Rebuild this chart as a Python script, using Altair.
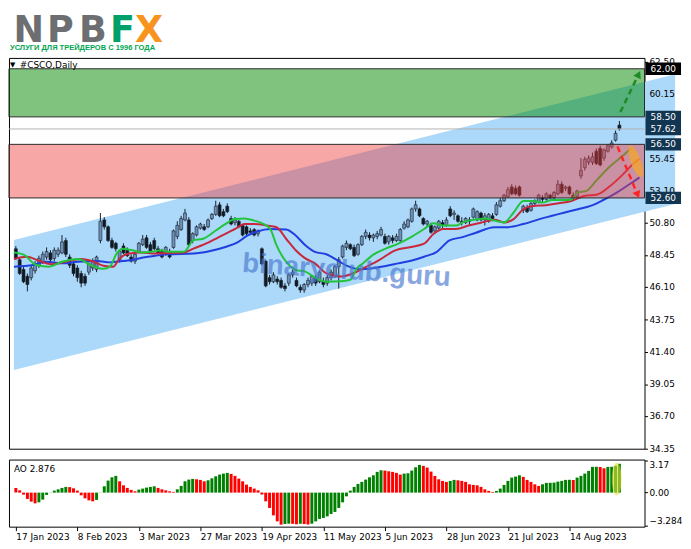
import altair as alt
import pandas as pd

# daily bars, 17 Jan 2023 .. 31 Aug 2023 (bar index 0..157)
opens = [48.9, 48.1, 47.4, 46.9, 46.8, 47.3, 47.7, 47.9, 48.3, 48.6,
         48.2, 48.5, 48.6, 49.5, 48.3, 47.8, 47.5, 47.1, 46.9, 47.2,
         47.5, 47.4, 49.5, 51.0, 50.5, 49.5, 49.3, 48.1, 49.1, 48.8,
         48.3, 48.0, 48.7, 49.2, 49.7, 49.2, 49.5, 48.9, 48.7, 48.5,
         48.7, 49.0, 49.8, 50.3, 51.0, 51.0, 49.5, 49.9, 50.4, 50.5,
         50.5, 51.1, 51.4, 52.1, 51.6, 52.0, 51.1, 50.8, 50.9, 50.6,
         50.5, 50.2, 50.3, 50.0, 48.9, 48.0, 46.8, 46.5, 46.7, 46.6,
         46.2, 46.4, 47.0, 46.6, 46.1, 45.9, 46.3, 46.4, 46.8, 46.5,
         46.5, 46.4, 46.8, 46.9, 47.6, 48.3, 49.0, 49.2, 49.0, 48.5,
         49.2, 49.8, 49.9, 49.7, 49.8, 49.9, 49.8, 49.4, 49.7, 49.5,
         49.5, 50.4, 50.5, 50.9, 51.8, 51.8, 51.1, 50.7, 50.6, 50.2,
         50.4, 50.8, 50.6, 51.8, 51.4, 51.3, 50.9, 50.8, 51.0, 51.2,
         51.0, 51.5, 51.0, 50.9, 51.3, 51.4, 52.0, 52.4, 52.7, 53.4,
         53.3, 53.4, 51.7, 51.9, 51.7, 52.2, 52.3, 52.6, 52.5, 52.8,
         52.6, 52.9, 53.6, 53.3, 53.4, 52.8, 52.7, 54.2, 54.8, 55.2,
         55.2, 56.0, 56.2, 55.5, 56.0, 56.3, 56.8, 57.9]
highs = [49.1, 48.3, 47.6, 47.1, 47.7, 48.0, 48.4, 48.7, 49.0, 48.8,
         49.0, 49.0, 49.9, 49.7, 48.5, 48.0, 47.7, 47.3, 47.1, 47.9,
         48.2, 48.4, 51.5, 51.2, 50.6, 49.7, 49.4, 48.8, 49.3, 49.0,
         48.5, 48.6, 49.4, 49.9, 49.9, 49.4, 49.7, 49.1, 48.9, 49.1,
         48.9, 50.3, 50.9, 51.3, 51.8, 51.2, 50.1, 50.6, 50.8, 50.7,
         51.1, 51.5, 52.4, 52.3, 51.8, 52.2, 51.3, 51.2, 51.0, 50.7,
         50.6, 50.4, 50.4, 50.3, 49.0, 48.1, 47.0, 47.2, 46.9, 46.8,
         46.4, 47.1, 47.4, 46.8, 46.3, 46.4, 46.8, 47.0, 47.0, 47.3,
         46.8, 47.0, 47.4, 47.7, 48.3, 49.2, 49.5, 49.3, 49.2, 49.3,
         49.9, 50.3, 50.1, 50.0, 50.2, 50.5, 50.0, 49.9, 49.9, 50.0,
         50.4, 50.9, 51.1, 51.9, 52.4, 51.9, 51.2, 51.0, 50.8, 50.6,
         51.0, 51.0, 51.2, 52.0, 51.7, 51.4, 51.2, 51.2, 51.2, 51.9,
         51.7, 51.6, 51.5, 51.5, 51.5, 52.3, 52.6, 52.9, 53.4, 53.6,
         53.5, 53.5, 52.1, 52.1, 52.3, 52.5, 52.9, 52.8, 53.0, 52.9,
         53.1, 53.9, 53.8, 53.5, 53.5, 53.0, 53.2, 55.5, 55.6, 55.7,
         55.9, 56.2, 56.4, 56.2, 56.5, 56.8, 57.5, 58.2]
lows = [48.1, 47.0, 46.4, 45.8, 46.6, 47.1, 47.5, 47.8, 48.1, 47.9,
        48.0, 48.3, 48.5, 48.3, 47.5, 46.9, 46.5, 46.1, 46.2, 47.0,
        47.3, 47.2, 49.3, 50.3, 49.4, 48.9, 48.7, 47.9, 48.5, 48.3,
        47.9, 47.8, 48.6, 49.1, 48.9, 48.6, 48.8, 48.5, 48.2, 48.4,
        48.2, 48.9, 49.6, 50.2, 50.9, 49.1, 49.3, 49.8, 50.3, 50.2,
        50.4, 51.0, 51.3, 51.2, 51.2, 51.5, 50.6, 50.6, 50.4, 49.8,
        49.9, 49.9, 49.8, 49.8, 47.7, 46.1, 46.3, 46.4, 46.3, 46.0,
        45.8, 46.2, 46.8, 46.1, 45.7, 45.7, 46.1, 46.2, 46.2, 46.4,
        46.1, 46.2, 46.6, 46.8, 46.0, 48.2, 48.8, 48.8, 48.3, 48.4,
        49.1, 49.6, 49.5, 49.4, 49.6, 49.8, 49.2, 49.2, 49.3, 49.4,
        49.4, 50.3, 50.4, 50.8, 51.6, 51.2, 50.6, 50.5, 50.0, 50.0,
        50.3, 50.4, 50.5, 51.2, 51.0, 50.8, 50.6, 50.7, 50.6, 51.1,
        50.9, 50.9, 50.6, 50.8, 50.9, 51.3, 51.9, 52.3, 52.6, 52.8,
        52.8, 52.7, 51.5, 51.5, 51.6, 52.0, 52.2, 52.3, 52.4, 52.5,
        52.5, 52.8, 52.9, 53.1, 52.8, 52.4, 52.6, 54.0, 54.6, 55.0,
        55.0, 55.0, 54.9, 55.3, 55.9, 56.2, 56.7, 57.5]
closes = [48.2, 47.1, 46.5, 46.3, 47.5, 47.8, 48.2, 48.5, 48.7, 48.1,
          48.8, 48.8, 49.4, 48.5, 47.7, 47.1, 46.8, 46.4, 46.4, 47.8,
          48.0, 48.3, 50.9, 50.5, 49.5, 49.0, 48.9, 48.7, 48.6, 48.4,
          48.0, 48.5, 49.3, 49.6, 49.0, 48.7, 48.9, 48.6, 48.3, 49.0,
          48.3, 50.2, 50.6, 51.1, 51.5, 49.2, 50.0, 50.5, 50.7, 50.3,
          51.0, 51.4, 52.0, 51.3, 51.3, 51.6, 50.7, 51.0, 50.5, 49.9,
          50.0, 50.1, 49.9, 50.2, 47.8, 46.2, 46.5, 47.0, 46.5, 46.1,
          46.0, 47.0, 47.2, 46.2, 45.9, 46.3, 46.6, 46.9, 46.4, 47.2,
          46.3, 46.8, 47.2, 47.6, 48.1, 49.1, 49.3, 48.9, 48.4, 49.2,
          49.8, 50.1, 49.7, 49.9, 50.0, 50.3, 49.3, 49.8, 49.5, 49.8,
          50.3, 50.7, 51.0, 51.8, 52.1, 51.3, 50.7, 50.9, 50.1, 50.5,
          50.9, 50.6, 51.0, 51.3, 51.5, 50.9, 50.8, 51.1, 50.9, 51.8,
          51.6, 51.0, 51.3, 51.4, 51.1, 52.1, 52.4, 52.8, 53.2, 52.9,
          52.9, 52.8, 52.0, 51.6, 52.2, 52.4, 52.8, 52.5, 52.9, 52.6,
          53.0, 53.6, 53.0, 53.4, 52.9, 52.6, 53.1, 54.6, 55.4, 55.5,
          55.6, 55.1, 55.0, 56.1, 56.4, 56.6, 57.3, 57.62]

# Awesome Oscillator, one value per bar
ao_values = [0.47, 0.23, -0.2, -0.63, -0.9, -1.07, -0.97, -0.7, -0.23, -0.02,
             0.2, 0.33, 0.47, 0.57, 0.55, 0.43, 0.2, -0.27, -0.57, -0.77,
             -0.87, -0.73, 0.02, 0.63, 1.2, 1.53, 1.67, 1.13, 0.73, 0.47,
             0.27, 0.13, 0.3, 0.4, 0.5, 0.57, 0.63, 0.47, 0.33, 0.23,
             0.13, 0.07, 0.33, 0.67, 1.13, 1.3, 1.37, 1.33, 1.27, 1.13,
             1.23, 1.43, 1.63, 1.8, 1.9, 1.97, 1.87, 1.67, 1.4, 1.13,
             0.8, 0.57, 0.4, 0.23, -0.2, -0.87, -1.53, -2.27, -2.87, -3.2,
             -3.13, -3.1, -3.12, -3.16, -3.11, -3.14, -3.18, -3.1, -2.87, -2.63,
             -2.53, -2.37, -2.13, -1.93, -1.53, -0.97, -0.37, 0.2, 0.57, 0.87,
             1.07, 1.3, 1.53, 1.73, 2.07, 2.23, 2.2, 2.13, 2.07, 1.97,
             1.8, 1.9, 1.93, 2.2, 2.53, 2.77, 2.67, 2.5, 2.1, 1.67,
             1.33, 1.17, 1.07, 1.17, 1.27, 1.23, 1.17, 1.07, 0.83, 0.77,
             0.73, 0.57, 0.33, 0.17, 0.07, 0.17, 0.4, 0.77, 1.17, 1.5,
             1.6, 1.73, 1.57, 1.27, 1.07, 0.83, 0.67, 0.83, 0.97, 0.98,
             1.0, 1.1, 1.17, 1.27, 1.28, 1.26, 1.5, 1.67, 1.9, 2.17,
             2.57, 2.58, 2.56, 2.43, 2.57, 2.58, 2.68, 2.876]

# Alligator lines (bar position, price)
jaw_x = [-0.5, 4.5, 7.8, 12.0, 16.2, 21.2, 24.5, 27.8, 30.3, 32.8,
         36.2, 39.5, 46.2, 50.3, 54.5, 57.8, 60.3, 62.8, 66.2, 70.3,
         72.8, 75.3, 77.8, 80.75, 82.8, 86.2, 89.5, 92.8, 96.2, 99.5,
         102.8, 106.2, 109.5, 112.8, 116.2, 119.5, 124.5, 127.8, 132.0, 136.2,
         139.5, 142.8, 146.2, 149.5, 152.8, 156.2, 160.75, 162.25]
jaw_y = [47.60, 47.72, 47.96, 47.84, 47.96, 48.01, 47.91, 48.01, 48.08, 48.25,
         48.39, 48.50, 48.55, 48.72, 49.03, 49.39, 49.87, 50.16, 50.34, 50.30,
         49.87, 49.16, 48.68, 48.50, 48.20, 47.65, 47.41, 47.48, 47.65, 47.84,
         48.03, 48.32, 48.68, 49.51, 49.75, 50.05, 50.47, 50.47, 50.70, 51.06,
         51.30, 51.54, 51.78, 52.02, 52.45, 52.97, 53.81, 54.10]
teeth_x = [-0.5, 2.8, 6.2, 9.5, 12.8, 17.0, 20.3, 22.8, 25.3, 27.0,
           29.5, 32.8, 36.2, 39.5, 43.7, 46.2, 50.3, 54.5, 57.0, 59.5,
           62.0, 65.3, 67.8, 70.3, 72.8, 75.3, 77.8, 80.75, 84.5, 87.8,
           91.2, 94.5, 98.7, 102.8, 106.2, 108.7, 111.2, 114.5, 117.8, 120.75,
           124.5, 127.0, 129.5, 132.0, 134.5, 137.8, 141.2, 144.5, 147.8, 151.2,
           154.5, 157.8, 160.75, 162.25]
teeth_y = [48.15, 48.32, 48.01, 47.77, 47.96, 48.15, 47.96, 47.67, 47.60, 48.20,
           48.55, 48.63, 48.55, 48.60, 48.63, 48.91, 49.39, 49.99, 50.34, 50.70,
           50.70, 50.59, 50.47, 49.63, 48.79, 48.20, 47.84, 47.12, 46.88, 47.12,
           47.60, 48.08, 48.79, 49.03, 49.27, 49.99, 50.34, 50.34, 50.59, 50.78,
           51.02, 50.82, 51.06, 51.78, 52.02, 52.07, 52.21, 52.38, 52.74, 52.85,
           53.45, 54.28, 55.12, 55.45]
lips_x = [-0.5, 2.0, 5.3, 8.7, 12.0, 16.2, 19.5, 22.8, 24.5, 26.2,
          27.8, 30.3, 32.8, 35.3, 37.8, 39.5, 43.7, 46.2, 48.7, 52.0,
          54.5, 57.0, 59.5, 62.0, 64.5, 66.2, 67.8, 70.3, 72.8, 75.3,
          77.8, 80.75, 84.5, 87.0, 88.7, 90.3, 92.8, 96.2, 99.5, 102.8,
          106.2, 108.7, 111.2, 114.5, 116.2, 118.7, 122.0, 124.5, 127.0, 129.5,
          132.0, 134.5, 137.0, 139.5, 142.8, 144.5, 146.2, 148.2, 151.2, 154.5,
          157.8, 160.0]
lips_y = [48.63, 48.48, 47.72, 47.60, 47.96, 48.15, 47.72, 47.44, 47.60, 48.55,
          48.91, 48.79, 48.63, 48.68, 48.79, 48.68, 48.68, 49.51, 49.63, 50.23,
          50.70, 51.06, 51.11, 50.95, 50.70, 50.34, 49.16, 47.96, 47.36, 47.24,
          46.81, 46.50, 46.53, 46.65, 47.48, 47.84, 48.44, 48.91, 49.27, 49.75,
          50.34, 50.75, 50.59, 50.59, 50.82, 50.99, 51.11, 50.95, 50.82, 51.54,
          52.38, 52.38, 52.26, 52.45, 52.45, 52.49, 53.02, 53.09, 53.93, 54.89,
          55.65, 56.20]

# channel, zones and marked levels
channel_x = [-0.5, 171.5]
channel_top = [49.53, 61.61]
channel_bottom = [40.08, 52.15]
zone_low = [58.50, 52.60]
zone_high = [62.00, 56.50]
zone_colors = ["#008800", "#f03c3c"]
zone_alpha = [0.5, 0.45]
level_prices = [62.00, 58.50, 57.62, 56.50, 52.60]
level_fills = ["#000000", "#123552", "#123552", "#123552", "#123552"]
price_ticks = [34.35, 36.70, 39.05, 41.40, 43.75, 46.10, 48.45, 50.80,
               53.10, 55.45, 57.80, 60.15, 62.50]
date_ticks = [0, 16, 32, 48, 64, 80, 96, 112, 128, 144]
date_labels = ["17 Jan 2023", "8 Feb 2023", "3 Mar 2023", "27 Mar 2023",
               "19 Apr 2023", "11 May 2023", "5 Jun 2023", "28 Jun 2023",
               "21 Jul 2023", "14 Aug 2023"]
ao_ticks = [3.17, 0.0, -3.284]

# forecast arrows and highlight marks
up_arrow_x = [157.25, 162.0]
up_arrow_y = [58.85, 61.6]
down_arrow_x = [156.5, 161.75]
down_arrow_y = [56.34, 52.83]
price_mark = (161.25, 55.27)
ao_mark = (156.3, 1.35)

W, H, AO_H = 644, 396, 68
ELLIPSE = ("M0,-1 C0.166,-1 0.3,-0.552 0.3,0 C0.3,0.552 0.166,1 0,1 "
           "C-0.166,1 -0.3,0.552 -0.3,0 C-0.3,-0.552 -0.166,-1 0,-1 Z")

x_scale = alt.Scale(domain=[-0.5, 162.25], nice=False, zero=False)
y_scale = alt.Scale(domain=[34.35, 62.79], nice=False, zero=False)
price_axis = alt.Axis(orient="right", values=price_ticks, labels=False, tickSize=3,
                      tickColor="black", domain=False, grid=False, title=None)


def bx(field):
    return alt.X(field, type="quantitative", scale=x_scale, axis=None)


def py(field):
    return alt.Y(field, type="quantitative", scale=y_scale, axis=price_axis)


candles = pd.DataFrame({"i": range(len(opens)), "open": opens, "high": highs,
                        "low": lows, "close": closes})
candles["candle"] = ["bull" if c >= o else "bear" for o, c in zip(opens, closes)]

channel = alt.Chart(pd.DataFrame({"x": channel_x, "top": channel_top, "bot": channel_bottom})
                    ).mark_area(color="#acd8f9", clip=False).encode(
    x=bx("x"), y=py("top"), y2=alt.Y2("bot"))

wicks = alt.Chart(candles).mark_rule(color="#17202a", strokeWidth=1).encode(
    x=bx("i"), y=py("low"), y2=alt.Y2("high"))

bodies = alt.Chart(candles).mark_bar(size=3, stroke="#17202a", strokeWidth=0.6).encode(
    x=bx("i"), y=py("open"), y2=alt.Y2("close"),
    color=alt.Color("candle:N", scale=alt.Scale(domain=["bull", "bear"], range=["#6f90b8", "#111a24"]),
                    legend=None))


def ma_line(xs, ys, color):
    return alt.Chart(pd.DataFrame({"x": xs, "y": ys})).mark_line(
        color=color, strokeWidth=2, interpolate="monotone").encode(x=bx("x"), y=py("y"))


jaw = ma_line(jaw_x, jaw_y, "#1f3fe0")
teeth = ma_line(teeth_x, teeth_y, "#c8283c")
lips = ma_line(lips_x, lips_y, "#22c43c")

watermark = alt.Chart(pd.DataFrame({"t": ["binaryclub.guru"]})).mark_text(
    font="Liberation Sans", fontSize=28, fontWeight="bold", color="#4a78d0", opacity=0.65,
    angle=4).encode(x=alt.value(342), y=alt.value(216), text="t:N")

current = alt.Chart(pd.DataFrame({"p": [level_prices[2]]})).mark_rule(
    color="#b4b4b4", strokeWidth=1).encode(y=py("p"), x=alt.value(0), x2=alt.value(W))

zones = alt.Chart(pd.DataFrame({"lo": zone_low, "hi": zone_high, "c": zone_colors, "a": zone_alpha})
                  ).mark_rect(stroke="#2a2a2a", strokeWidth=1).encode(
    x=alt.value(0), x2=alt.value(W), y=py("hi"), y2=alt.Y2("lo"),
    color=alt.Color("c:N", scale=None), fillOpacity=alt.FillOpacity("a:Q", scale=None))

price_ellipse = alt.Chart(pd.DataFrame({"x": [price_mark[0]], "y": [price_mark[1]]})).mark_point(
    shape=ELLIPSE, filled=True, color="#f3a52b", opacity=0.75, size=1150, angle=340,
    strokeWidth=0).encode(x=bx("x"), y=py("y"))


def arrow(xs, ys, color, angle):
    df = pd.DataFrame({"x": xs, "y": ys})
    line = alt.Chart(df).mark_line(color=color, strokeWidth=2.5, strokeDash=[6, 4]).encode(
        x=bx("x"), y=py("y"))
    head = alt.Chart(df.tail(1)).mark_point(shape="triangle-up", filled=True, color=color,
                                            size=70, angle=angle, opacity=1).encode(
        x=bx("x"), y=py("y"))
    return line + head


up_arrow = arrow(up_arrow_x, up_arrow_y, "#1e8a28", 26)
down_arrow = arrow(down_arrow_x, down_arrow_y, "#ff2424", 157)

tick_labels = alt.Chart(pd.DataFrame({"p": price_ticks})).mark_text(
    align="left", baseline="middle", fontSize=9, color="black").encode(
    x=alt.value(W + 5), y=py("p"), text=alt.Text("p:Q", format=".2f"))

levels = pd.DataFrame({"p": level_prices, "fill": level_fills})
level_boxes = alt.Chart(levels).transform_calculate(
    top="datum.p + 0.45", bot="datum.p - 0.45").mark_rect().encode(
    x=alt.value(W + 1), x2=alt.value(W + 37), y=py("top"), y2=alt.Y2("bot"),
    color=alt.Color("fill:N", scale=None))
level_text = alt.Chart(levels).mark_text(
    align="center", baseline="middle", fontSize=9, color="white").encode(
    x=alt.value(W + 19), y=py("p"), text=alt.Text("p:Q", format=".2f"))

header = alt.Chart(pd.DataFrame({"t": ["#CSCO,Daily"]})).mark_text(
    align="left", baseline="middle", fontSize=9, color="black").encode(
    x=alt.value(11), y=alt.value(7), text="t:N")
header_mark = alt.Chart(pd.DataFrame({"t": ["▼"]})).mark_text(
    align="left", baseline="middle", fontSize=7, color="black").encode(
    x=alt.value(1), y=alt.value(7), text="t:N")

logo_layers = []
for letter, xpos, col in [("N", 20, "#6d6e71"), ("P", 52, "#6d6e71"), ("B", 85, "#6d6e71"),
                          ("F", 115, "#00a06a"), ("X", 142, "#f7941d")]:
    logo_layers.append(alt.Chart(pd.DataFrame({"t": [letter]})).mark_text(
        font="DejaVu Sans", fontSize=37, fontWeight="bold", color=col,
        align="center", baseline="top").encode(
        x=alt.value(xpos), y=alt.value(-45), text="t:N"))
slogan = alt.Chart(pd.DataFrame({"t": ["УСЛУГИ ДЛЯ ТРЕЙДЕРОВ С 1996 ГОДА"]})).mark_text(
    font="Liberation Sans", fontSize=7.6, fontWeight="bold", color="#00a651",
    align="left", baseline="alphabetic").encode(x=alt.value(1), y=alt.value(-8), text="t:N")

main = alt.layer(
    channel, wicks, bodies, jaw, teeth, lips, watermark, current, zones,
    price_ellipse, up_arrow, down_arrow, tick_labels, level_boxes, level_text,
    header_mark, header, slogan, *logo_layers,
).properties(width=W, height=H)

# Awesome Oscillator panel
ao_df = pd.DataFrame({"i": range(len(ao_values)), "ao": ao_values})
ao_df["trend"] = ["falling" if k == 0 or v < ao_values[k - 1] else "rising"
                  for k, v in enumerate(ao_values)]

label_expr = ("[" + ",".join(f"'{s}'" for s in date_labels) + "][indexof(["
              + ",".join(str(t) for t in date_ticks) + "], datum.value)]")
time_axis = alt.Axis(values=date_ticks, labelExpr=label_expr, labelAlign="left", labelPadding=2,
                     labelFontSize=9, labelColor="black", tickSize=4, tickColor="black",
                     domain=False, grid=False, labelOverlap=False, labelFlush=False, title=None)
ao_scale = alt.Scale(domain=[-3.4, 3.3], nice=False, zero=False)
ao_axis = alt.Axis(orient="right", values=ao_ticks, labels=False, tickSize=3, tickColor="black",
                   domain=False, grid=False, title=None)


def ax(field):
    return alt.X(field, type="quantitative", scale=x_scale, axis=time_axis)


def ay(field):
    return alt.Y(field, type="quantitative", scale=ao_scale, axis=ao_axis)


ao_bars = alt.Chart(ao_df).mark_bar(size=3).encode(
    x=ax("i"), y=ay("ao"), y2=alt.datum(0),
    color=alt.Color("trend:N", scale=alt.Scale(domain=["rising", "falling"],
                                               range=["#008000", "#ff0000"]), legend=None))

ao_ellipse = alt.Chart(pd.DataFrame({"x": [ao_mark[0]], "y": [ao_mark[1]]})).mark_point(
    shape=ELLIPSE, filled=True, color="#e6e03c", opacity=0.6, size=1100, strokeWidth=0).encode(
    x=ax("x"), y=ay("y"))

ao_title = alt.Chart(pd.DataFrame({"t": [f"AO {ao_values[-1]}"]})).mark_text(
    align="left", baseline="middle", fontSize=9, color="black").encode(
    x=alt.value(5), y=alt.value(10), text="t:N")

ao_labels = []
for value, base in zip(ao_ticks, ["top", "middle", "bottom"]):
    ao_labels.append(alt.Chart(pd.DataFrame({"v": [value]})).mark_text(
        align="left", baseline=base, fontSize=9, color="black").encode(
        x=alt.value(W + 5), y=ay("v"), text=alt.Text("v:Q", format=".2f" if value != -3.284 else ".3f")))

ao_panel = alt.layer(ao_bars, ao_ellipse, ao_title, *ao_labels).properties(width=W, height=AO_H)

chart = alt.vconcat(main, ao_panel, spacing=4).properties(
    padding=0, background="white"
).resolve_scale(color="independent").configure(font="DejaVu Sans").configure_view(
    stroke="black", strokeWidth=1)

chart.save("out.html", embed_options={"renderer": "svg", "actions": False})
